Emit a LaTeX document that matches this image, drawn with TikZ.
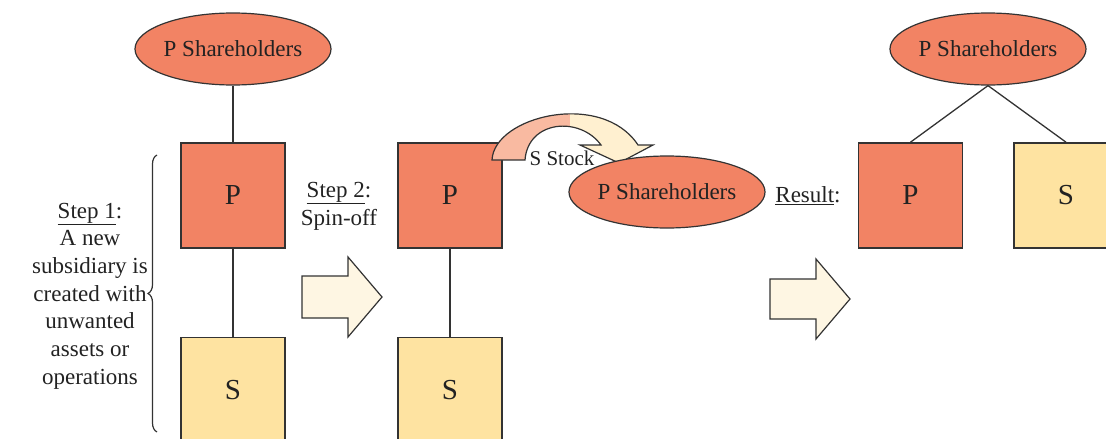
\documentclass[tikz,border=0pt]{standalone}
\usepackage{fontspec}
\setmainfont{Liberation Serif}
\usetikzlibrary{shapes.geometric,decorations.pathreplacing}
\definecolor{salmon}{HTML}{F28364}
\definecolor{sbox}{HTML}{FEE3A1}
\definecolor{arrowfill}{HTML}{FEF6E3}
\definecolor{curvepink}{HTML}{F9BAA1}
\definecolor{curveyellow}{HTML}{FFF0D0}
\definecolor{edge}{HTML}{333333}
\definecolor{txt}{HTML}{222222}
\tikzset{
  pbox/.style={draw=edge, line width=1.6pt, fill=salmon, minimum width=104pt, minimum height=105pt, inner sep=0pt, text=txt, font=\fontsize{29}{33}\selectfont},
  sboxst/.style={pbox, fill=sbox},
  shold/.style={ellipse, draw=edge, line width=1.2pt, fill=salmon, minimum width=190pt, minimum height=72pt, inner sep=0pt, text=txt, font=\fontsize{23}{27}\selectfont},
  link/.style={draw=edge, line width=1.3pt},
  lbl/.style={text=txt, font=\fontsize{23}{27.7}\selectfont, align=center, inner sep=0pt},
  blockarrow/.style={draw=edge, line width=1.2pt, fill=arrowfill, line join=miter},
}
\begin{document}
\begin{tikzpicture}[x=1pt,y=-1pt]
\useasboundingbox (0,0) rectangle (1106,439);
% left column
\node[shold] (e1) at (233,49) {P Shareholders};
\node[pbox] (p1) at (233,195.5) {P};
\node[sboxst] (s1) at (233,390) {S};
\draw[link] (e1.south) -- (p1.north);
\draw[link] (p1.south) -- (s1.north);
\coordinate (brb) at (157,432);
\coordinate (brt) at (157,155);
\draw[draw=edge, line width=1.2pt, decorate, decoration={brace, amplitude=9pt}] (brb) -- (brt);
\node[lbl] (step1) at (90,296) {\underline{Step 1}:\\A new\\subsidiary is\\created with\\unwanted\\assets or\\operations};
% step 2
\node[lbl] (step2) at (339,206) {\underline{Step 2}:\\Spin-off};
\draw[blockarrow] (302,276) -- (348,276) -- (348,257) -- (382,297) -- (348,337) -- (348,318) -- (302,318) -- cycle;
% middle column
\node[pbox] (p2) at (450,195.5) {P};
\node[sboxst] (s2) at (450,390) {S};
\draw[link] (p2.south) -- (s2.north);
% curved arrow
\def\curvepath{(492,160) .. controls (494,116) and (602,90) .. (638,145) -- (653,145) -- (619,163) -- (580,145) -- (601,145) .. controls (580,116) and (528,120) .. (525,160) -- cycle}
\begin{scope}
\clip (480,90) rectangle (570,170);
\fill[curvepink] \curvepath;
\end{scope}
\begin{scope}
\clip (570,90) rectangle (670,170);
\fill[curveyellow] \curvepath;
\end{scope}
\draw[draw=edge, line width=1.2pt, line join=miter] \curvepath;
\node[shold] (e2) at (667,192) {P Shareholders};
\node[lbl, font=\fontsize{21}{25}\selectfont] (sstock) at (562,158) {S Stock};
% result
\node[lbl] (result) at (808,196) {\underline{Result}:};
\draw[blockarrow] (770,279) -- (816,279) -- (816,259) -- (850,299) -- (816,339) -- (816,319) -- (770,319) -- cycle;
\node[shold] (e3) at (988,49) {P Shareholders};
\node[pbox] (p3) at (910.5,195.5) {P};
\node[sboxst] (s3) at (1066,195.5) {S};
\draw[link] (e3.south) -- (p3.north);
\draw[link] (e3.south) -- (s3.north);
\end{tikzpicture}
\end{document}
